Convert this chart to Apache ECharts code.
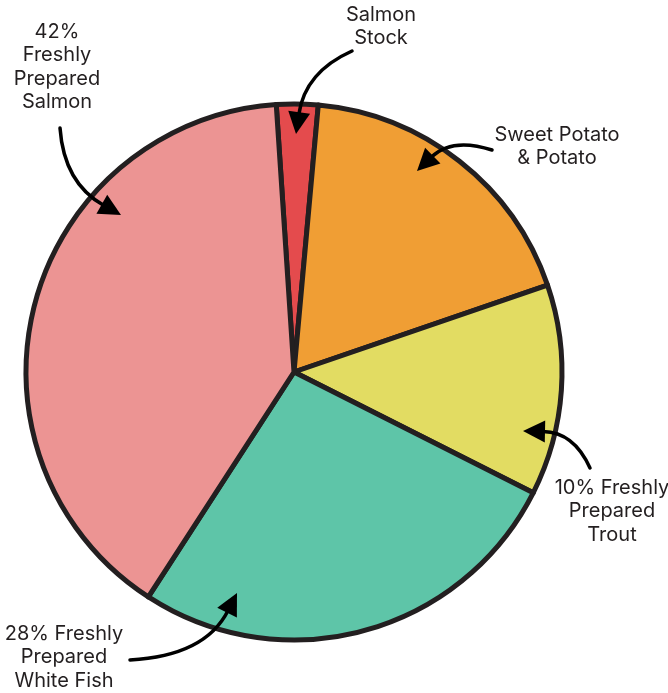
<!DOCTYPE html>
<html>
<head>
<meta charset="utf-8">
<script src="https://cdn.jsdelivr.net/npm/echarts@6/dist/echarts.min.js"></script>
<style>html,body{margin:0;padding:0;background:#fff}#c{width:668px;height:693px}</style>
</head>
<body>
<div id="c"></div>
<script>
var categories = ['Salmon Stock', 'Sweet Potato & Potato', '10% Freshly Prepared Trout', '28% Freshly Prepared White Fish', '42% Freshly Prepared Salmon'];
var values = [2.5, 18.3, 12.7, 26.7, 39.8];
var colors = ['#e44b4d', '#f09e34', '#e2dc62', '#5ec5a8', '#ec9493'];
var labelLines = [['Salmon', 'Stock'], ['Sweet Potato', '& Potato'], ['10% Freshly', 'Prepared', 'Trout'], ['28% Freshly', 'Prepared', 'White Fish'], ['42%', 'Freshly', 'Prepared', 'Salmon']];

var FONT = 'Inter, "Noto Sans", sans-serif';
var INK = '#231f20';
var LH = 23.3;

// annotation layout: label centre x / first-line centre y, arrow start, control, tip
var annos = [
  {tx: 381, ty: 15, a: [352, 51], c: [305, 72], t: [296, 134]},
  {tx: 557, ty: 135, a: [492, 150], c: [452, 137], t: [417, 171]},
  {tx: 612, ty: 488, a: [590, 468], c: [574, 432], t: [523, 431]},
  {tx: 64, ty: 634, a: [130, 660], c: [205, 656], t: [237, 593]},
  {tx: 57, ty: 32, a: [60, 128], c: [64, 183], t: [121, 215]}
];

function arrow(an) {
  var p0 = an.a, c = an.c, p1 = an.t;
  var dx = p1[0] - c[0], dy = p1[1] - c[1];
  var L = Math.sqrt(dx * dx + dy * dy); dx /= L; dy /= L;
  var hl = 22, hw = 11;
  var bx = p1[0] - dx * hl, by = p1[1] - dy * hl;
  var nx = -dy, ny = dx;
  return [
    {type: 'bezierCurve', shape: {x1: p0[0], y1: p0[1], cpx1: c[0], cpy1: c[1], x2: bx + dx * 2, y2: by + dy * 2},
     style: {stroke: '#000', lineWidth: 3.5, fill: null, lineCap: 'round'}, z: 100},
    {type: 'polygon', shape: {points: [[p1[0], p1[1]], [bx + nx * hw, by + ny * hw], [bx - nx * hw, by - ny * hw]]},
     style: {fill: '#000'}, z: 101}
  ];
}

var graphics = [];
annos.forEach(function (an, i) {
  graphics.push({
    type: 'text', z: 100, x: an.tx, y: an.ty - LH / 2,
    style: {text: labelLines[i].join('\n'), font: '400 20px ' + FONT, fill: INK, align: 'center', verticalAlign: 'top', lineHeight: LH}
  });
  arrow(an).forEach(function (g) { graphics.push(g); });
});

var chart = echarts.init(document.getElementById('c'));
chart.setOption({
  animation: false,
  series: [{
    type: 'pie',
    center: [294, 372],
    radius: 268,
    startAngle: 93.8,
    clockwise: true,
    label: {show: false},
    labelLine: {show: false},
    itemStyle: {borderColor: INK, borderWidth: 5, borderJoin: 'round'},
    emphasis: {disabled: true},
    data: categories.map(function (n, i) { return {name: n, value: values[i], itemStyle: {color: colors[i]}}; })
  }],
  graphic: graphics
});
</script>
</body>
</html>
